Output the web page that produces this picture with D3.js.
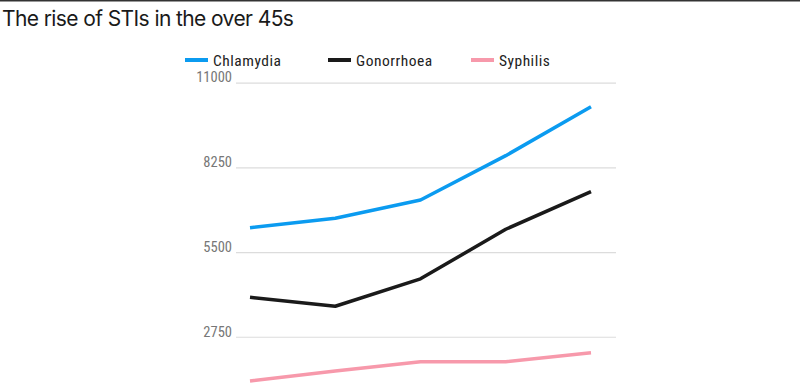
<!DOCTYPE html>
<html>
<head>
<meta charset="utf-8">
<script src="https://cdn.jsdelivr.net/npm/d3@7/dist/d3.min.js"></script>
<style>
  html, body { margin: 0; padding: 0; background: #fff; }
  svg { display: block; }
</style>
</head>
<body>
<svg id="chart" width="800" height="390"></svg>
<script>
const categories = ["2011", "2012", "2013", "2014", "2015"];
const chlamydia = [6290, 6600, 7190, 8630, 10220];
const gonorrhoea = [4030, 3740, 4630, 6240, 7460];
const syphilis = [1310, 1640, 1940, 1940, 2230];
const seriesNames = ["Chlamydia", "Gonorrhoea", "Syphilis"];
const seriesColors = ["#0b9bf0", "#1a1a1a", "#f799ab"];
const yTicks = [2750, 5500, 8250, 11000];

const series = [chlamydia, gonorrhoea, syphilis].map((v, i) => ({
  name: seriesNames[i], color: seriesColors[i], values: v
}));

const svg = d3.select("#chart");
const condensed = "'Liberation Sans Narrow', 'Roboto Condensed', 'Arial Narrow', Roboto, sans-serif";

// top rule
svg.append("line").attr("x1", 0).attr("x2", 800).attr("y1", 0.75).attr("y2", 0.75)
  .attr("stroke", "#333").attr("stroke-width", 1.5);

// title
svg.append("text").attr("x", 2).attr("y", 26)
  .attr("font-family", "Inter, 'Open Sans', sans-serif").attr("font-size", 21)
  .attr("fill", "#1a1a1a").attr("letter-spacing", "-0.6")
  .text("The rise of STIs in the over 45s");

const x = d3.scalePoint().domain(categories).range([250, 591]);
const y = d3.scaleLinear().domain([0, 11000]).range([421.4, 82.7]);

// grid + y labels
const yAxis = d3.axisLeft(y).tickValues(yTicks).tickSize(-(616 - 236)).tickPadding(4)
  .tickFormat(d3.format("d"));
const gy = svg.append("g").attr("transform", "translate(236,0)").call(yAxis);
gy.select(".domain").remove();
gy.selectAll(".tick line").attr("stroke", "#dcdcdc").attr("stroke-width", 1.2);
gy.selectAll(".tick text").attr("font-family", condensed).attr("font-size", 14.5)
  .attr("fill", "#777").attr("dy", "-0.05em");

// lines
const line = d3.line().x((d, i) => x(categories[i])).y(d => y(d));
svg.append("g").selectAll("path").data(series).join("path")
  .attr("d", d => line(d.values))
  .attr("fill", "none").attr("stroke", d => d.color)
  .attr("stroke-width", 3.5).attr("stroke-linejoin", "round").attr("stroke-linecap", "butt");

// legend
const legendX = [185, 328, 471];
const lg = svg.append("g").selectAll("g").data(series).join("g")
  .attr("transform", (d, i) => `translate(${legendX[i]},60)`);
lg.append("line").attr("x1", 0).attr("x2", 23).attr("y1", 0).attr("y2", 0)
  .attr("stroke", d => d.color).attr("stroke-width", 4);
lg.append("text").attr("x", 28).attr("y", 5.5)
  .attr("font-family", condensed).attr("font-size", 15.5).attr("fill", "#222")
  .attr("letter-spacing", "0.5")
  .text(d => d.name);
</script>
</body>
</html>
